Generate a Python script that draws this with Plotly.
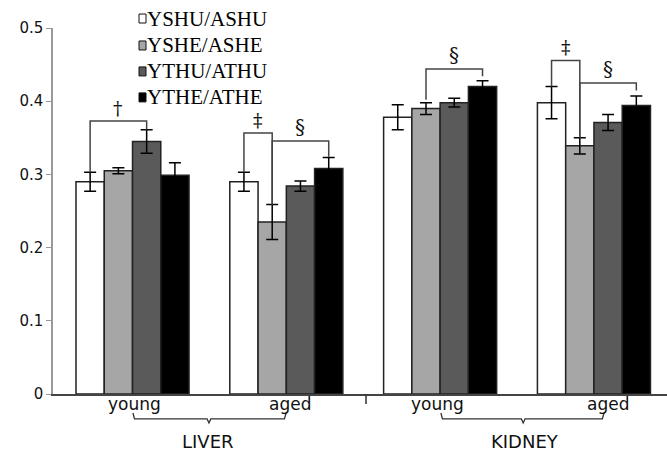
import plotly.graph_objects as go

# ---- data ----
groups = [0, 1, 2, 3]
group_labels = ["young", "aged", "young", "aged"]
group_label_pos = [0.016, 1.024, 1.98, 3.09]
organs = ["LIVER", "KIDNEY"]
series_names = ["YSHU/ASHU", "YSHE/ASHE", "YTHU/ATHU", "YTHE/ATHE"]
yshu = [0.290, 0.290, 0.378, 0.398]
yshe = [0.305, 0.235, 0.390, 0.339]
ythu = [0.345, 0.284, 0.398, 0.371]
ythe = [0.299, 0.308, 0.420, 0.394]
yshu_err = [0.013, 0.013, 0.017, 0.022]
yshe_err = [0.004, 0.024, 0.008, 0.011]
ythu_err = [0.016, 0.007, 0.006, 0.011]
ythe_err = [0.017, 0.015, 0.008, 0.013]
# significance brackets: (group, bar_from, bar_to, top, left_end, right_end, mark)
brackets = [
    (0, 0, 2, 0.373, 0.303, 0.361, "†"),
    (1, 0, 1, 0.3565, 0.303, 0.259, "‡"),
    (1, 1, 3, 0.3455, 0.259, 0.324, "§"),
    (2, 1, 3, 0.444, 0.402, 0.434, "§"),
    (3, 0, 1, 0.4557, 0.420, 0.350, "‡"),
    (3, 1, 3, 0.4247, 0.350, 0.4147, "§"),
]
y_ticks = [0, 0.1, 0.2, 0.3, 0.4, 0.5]
y_ticktext = ["0", "0.1", "0.2", "0.3", "0.4", "0.5"]

values = [yshu, yshe, ythu, ythe]
errors = [yshu_err, yshe_err, ythu_err, ythe_err]
colors = ["#ffffff", "#a6a6a6", "#5a5a5a", "#000000"]

W, H = 667, 452
ml, mr, mt, mb = 53, 0, 27.5, 58
plot_w = W - ml - mr
plot_h = H - mt - mb
x_range = [-0.517, 3.475]
bargap = 0.265
bw = (1 - bargap) / 4

def px_x(p):
    return (p - ml) / plot_w

def px_y(p):
    return (H - mb - p) / plot_h

fig = go.Figure()
for name, v, e, c in zip(series_names, values, errors, colors):
    fig.add_trace(go.Bar(
        x=groups, y=v, name=name,
        marker=dict(color=c, line=dict(color="#222222", width=1.5)),
        error_y=dict(type="data", array=e, color="black", thickness=1.5, width=6),
        showlegend=False,
    ))

shapes = []
annotations = []
line_style = dict(color="#444444", width=1.5)
for g, b0, b1, top, le, re, mark in brackets:
    xa = g + (b0 - 1.5) * bw
    xb = g + (b1 - 1.5) * bw
    shapes.append(dict(type="path", xref="x", yref="y",
                       path=f"M {xa},{le} L {xa},{top} L {xb},{top} L {xb},{re}",
                       line=line_style))
    annotations.append(dict(x=(xa + xb) / 2, y=top, xref="x", yref="y",
                            text=mark, showarrow=False, yanchor="bottom", yshift=0,
                            font=dict(family="DejaVu Serif", size=20 if mark == "§" else 19,
                                      color="#111111")))

# legend drawn as squares + text
leg_rows_px = [18, 45, 71, 97]
for name, c, ry in zip(series_names, colors, leg_rows_px):
    shapes.append(dict(type="rect", xref="paper", yref="paper",
                       x0=px_x(139), x1=px_x(146), y0=px_y(ry + 4.5), y1=px_y(ry - 4.5),
                       fillcolor=c, line=dict(color="#111111", width=1)))
    annotations.append(dict(x=px_x(145), y=px_y(ry), xref="paper", yref="paper",
                            text=name, showarrow=False, xanchor="left", yanchor="middle",
                            font=dict(family="Liberation Serif", size=21, color="black")))

# group labels under the axis
for lab, xpos in zip(group_labels, group_label_pos):
    annotations.append(dict(x=xpos, y=px_y(404), xref="x", yref="paper", text=lab,
                            showarrow=False, yanchor="middle",
                            font=dict(family="DejaVu Sans", size=17, color="#111111")))

# separator tick between organs
shapes.append(dict(type="line", xref="x", yref="paper", x0=1.518, x1=1.518,
                   y0=0, y1=px_y(404), line=dict(color="#333333", width=1.5)))

# braces under the axis
brace_specs = [(0.003, 0.998, 0.497, 0.488, organs[0]), (2.005, 3.065, 2.54, 2.55, organs[1])]
ya, yb, yc = px_y(413), px_y(419), px_y(423)
for x0, x1, xm, xl, lab in brace_specs:
    shapes.append(dict(type="path", xref="x", yref="paper",
                       path=(f"M {x0},{ya} L {x0 + 0.01},{yb} L {xm - 0.012},{yb} L {xm},{yc} "
                             f"L {xm + 0.012},{yb} L {x1 - 0.01},{yb} L {x1},{ya}"),
                       line=dict(color="#333333", width=1.3)))
    annotations.append(dict(x=xl, y=px_y(442), xref="x", yref="paper", text=lab,
                            showarrow=False, yanchor="middle",
                            font=dict(family="DejaVu Sans", size=18, color="#111111")))

fig.update_layout(
    width=W, height=H,
    margin=dict(l=ml, r=mr, t=mt, b=mb, pad=0),
    paper_bgcolor="white", plot_bgcolor="white",
    barmode="group", bargap=bargap, bargroupgap=0,
    shapes=shapes, annotations=annotations,
    xaxis=dict(range=x_range, showticklabels=False,
               showgrid=False, zeroline=False, showline=True, linecolor="#444444", linewidth=1.5,
               ticks=""),
    yaxis=dict(range=[0, 0.5], tickvals=y_ticks, ticktext=y_ticktext,
               showgrid=False, zeroline=False, showline=True, linecolor="#999999", linewidth=1.5,
               ticks="outside", ticklen=5, tickcolor="#999999",
               tickfont=dict(family="DejaVu Sans", size=15, color="#111111")),
)
fig.write_html("out.html", post_script="document.body.style.margin='0';",
               config={"displayModeBar": False})
